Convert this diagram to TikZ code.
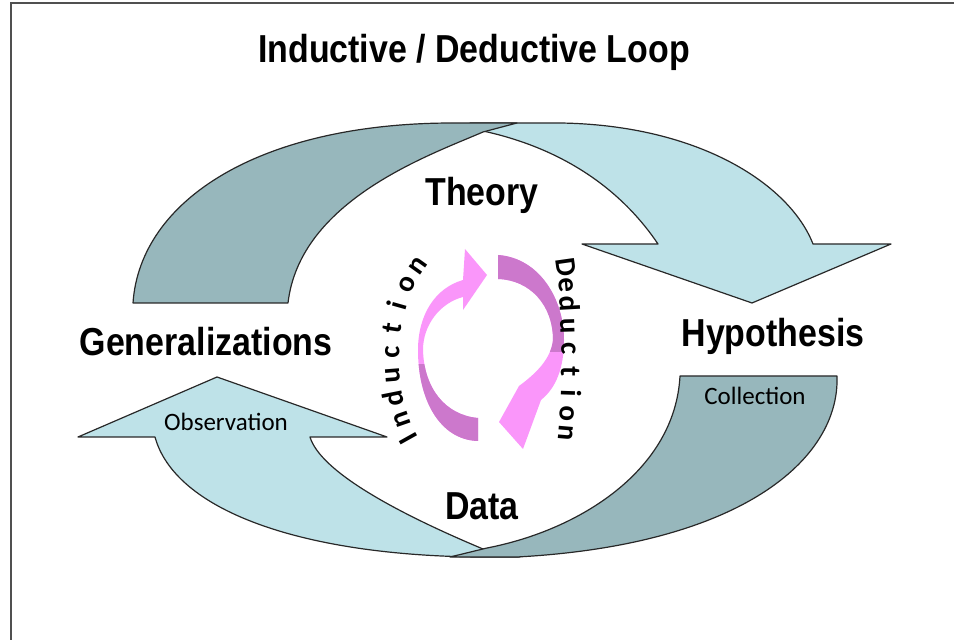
\documentclass[tikz,border=0pt]{standalone}
\usepackage{fontspec}
\usepackage{tikz}

\newfontfamily\headfont[FakeStretch=0.87]{Liberation Sans Bold}
\newfontfamily\labelfont{Carlito}
\newfontfamily\arcbold{Carlito Bold}

\definecolor{lightteal}{RGB}{190,226,232}
\definecolor{darkteal}{RGB}{151,183,188}
\definecolor{pinklight}{RGB}{250,150,250}
\definecolor{pinkdark}{RGB}{204,120,204}
\definecolor{edgegray}{RGB}{40,40,40}
\definecolor{framegray}{RGB}{80,80,80}

\tikzset{
  bigword/.style={font=\headfont\fontsize{19.5}{22}\selectfont, inner sep=0pt, anchor=base},
  smallword/.style={font=\labelfont\fontsize{12.5}{15}\selectfont, inner sep=0pt, anchor=base},
  lightarrow/.style={fill=lightteal, draw=edgegray, line width=0.6pt, line join=round},
  darkarrow/.style={fill=darkteal, draw=edgegray, line width=0.6pt, line join=round},
  arcletter/.style={font=\arcbold\fontsize{14.5}{17}\selectfont, sloped, allow upside down,
      anchor=base, inner sep=0pt}
}

\begin{document}
\begin{tikzpicture}[x=0.5pt, y=-0.5pt]
        \useasboundingbox (0,0) rectangle (954,640);

        % Frame (top and left edge only)
        \draw[framegray, line width=1pt] (11,640) -- (11,3) -- (954,3);

        % Title
        \node[bigword] (title) at (474,63) {Inductive / Deductive Loop};

        % Top right arrow (light) - Theory to Hypothesis
        \draw[lightarrow] (470,123) -- (560,123) .. controls (700,125) and (790,185) .. (813,244)
            -- (891,244) -- (752,303) -- (582,244) -- (658,244)
            .. controls (625,195) and (570,150) .. (483,131) -- cycle;

        % Top left arrow (dark) - back of the ribbon from Generalizations
        \draw[darkarrow] (133,303) .. controls (140,200) and (260,123) .. (453,123) -- (517,123)
            -- (483,132) .. controls (430,155) and (300,200) .. (288,303) -- cycle;

        % Bottom left arrow (light) - Data to Generalizations
        \draw[lightarrow] (155,437) -- (78,437) -- (217,377) -- (387,437) -- (310,437)
            .. controls (320,470) and (390,510) .. (483,549) -- (520,557) -- (477,557)
            .. controls (300,555) and (175,510) .. (155,437) -- cycle;

        % Bottom right arrow (dark) - Hypothesis to Data
        \draw[darkarrow] (680,376) -- (837,376) .. controls (840,460) and (740,545) .. (517,557)
            -- (450,557) -- (487,548) .. controls (580,530) and (675,470) .. (680,376) -- cycle;

        % Labels of the loop
        \node[bigword] (theory) at (482,206) {Theory};
        \node[bigword] (gen) at (206,356) {Generalizations};
        \node[bigword] (hyp) at (773,347) {Hypothesis};
        \node[bigword] (data) at (482,520) {Data};
        \node[smallword] (obs) at (226,431) {Observation};
        \node[smallword] (coll) at (755,405) {Collection};

        % Inner left arrow (up the left side)
        \path[save path=\indpath] (478,441) .. controls (440,440) and (418,400) .. (418,350)
            .. controls (418,315) and (435,288) .. (463,280) -- (465,249) -- (487,275)
            -- (463,310) -- (463,297) .. controls (440,303) and (423,325) .. (423,350)
            .. controls (424,388) and (445,415) .. (478,418) -- cycle;
        \fill[pinklight, use path=\indpath];
        \begin{scope}
            \clip (400,365) rectangle (495,450);
            \fill[pinkdark, use path=\indpath];
        \end{scope}

        % Inner right arrow (down the right side)
        \path[save path=\dedpath] (498,255) .. controls (540,258) and (564,300) .. (564,340)
            .. controls (564,368) and (556,388) .. (541,400) -- (523,449) -- (499,422)
            -- (519,386) .. controls (538,372) and (551,358) .. (553,340)
            .. controls (553,305) and (530,280) .. (498,279) -- cycle;
        \fill[pinklight, use path=\dedpath];
        \begin{scope}
            \clip (490,245) rectangle (575,352);
            \fill[pinkdark, use path=\dedpath];
        \end{scope}

        % Words along the inner arrows, letter by letter
        \path (421,442) .. controls (391,400) and (391,305) .. (430,262)
            foreach \p/\ch [count=\k] in {0.056/I,0.167/n,0.278/d,0.389/u,0.5/c,0.611/t,0.722/i,0.833/o,0.944/n}
            {node[arcletter, pos=\p] (ind\k) {\ch}};
        \path (556,262) .. controls (563,300) and (563,395) .. (558,440)
            foreach \p/\ch [count=\k] in {0.056/D,0.167/e,0.278/d,0.389/u,0.5/c,0.611/t,0.722/i,0.833/o,0.944/n}
            {node[arcletter, pos=\p] (ded\k) {\ch}};
\end{tikzpicture}
\end{document}
